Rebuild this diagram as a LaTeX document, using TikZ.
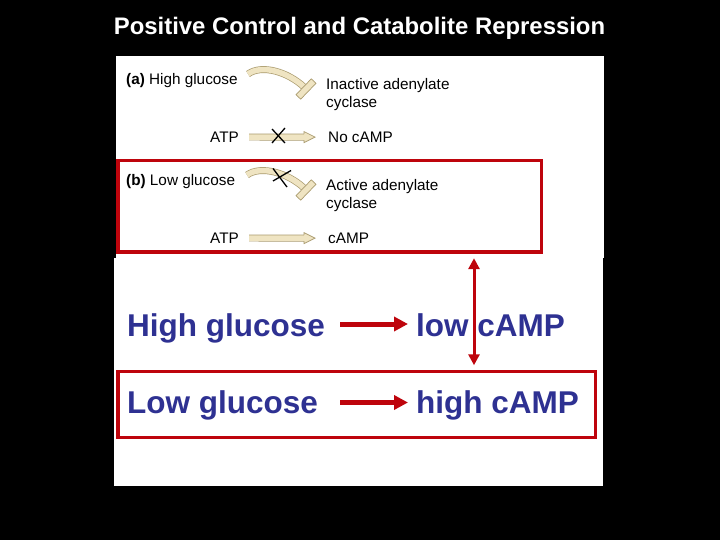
\documentclass[tikz,border=0pt]{standalone}
\usepackage{fontspec}
\setmainfont{Liberation Sans}
\usetikzlibrary{arrows.meta,calc}
\definecolor{boxred}{RGB}{190,4,12}
\definecolor{navy}{RGB}{46,49,146}
\definecolor{tanfill}{RGB}{239,228,194}
\definecolor{tanedge}{RGB}{170,155,110}

\newcommand{\tanarrow}[2]{%
  \draw[tanband] (#1) -- ($(#2)+(-11,0)$);
  \fill[tanfill] ($(#2)+(-11,-5)$) -- (#2) -- ($(#2)+(-11,5)$) -- cycle;
  \draw[tanedge, line width=0.7pt] ($(#2)+(-11,-3.1)$) -- ($(#2)+(-11,-5.5)$) -- (#2) -- ($(#2)+(-11,5.5)$) -- ($(#2)+(-11,3.1)$);
}

\begin{document}
\begin{tikzpicture}[x=1pt,y=-1pt,
  small/.style={font=\fontsize{15.3}{17.5}\selectfont, anchor=base west, inner sep=0pt, text=black},
  big/.style={font=\fontsize{31.5}{36}\selectfont\bfseries, anchor=base west, inner sep=0pt, text=navy},
  redbox/.style={draw=boxred, line width=3.5pt, inner sep=0pt},
  redarrow/.style={draw=boxred, line width=5pt, -{Triangle[length=14pt,width=14pt]}},
  dblarrow/.style={draw=boxred, line width=3pt, {Triangle[length=11pt,width=11pt]}-{Triangle[length=11pt,width=11pt]}},
  tanband/.style={draw=tanedge, line width=0.7pt, double=tanfill, double distance=5.5pt},
  inhibbar/.style={draw=tanedge, fill=tanfill, line width=0.7pt, minimum width=22pt, minimum height=6.5pt, inner sep=0pt},
  crossline/.style={draw=black, line width=1.3pt}
]
\fill[black] (0,0) rectangle (720,540);
\useasboundingbox (0,0) rectangle (720,540);
\fill[white] (116,56) rectangle (604,258);
\fill[white] (114,258) rectangle (603,486);

\node[font=\fontsize{23.9}{27}\selectfont\bfseries, text=white, anchor=base, inner sep=0pt] (title) at (359.5,35) {Positive Control and Catabolite Repression};

% (a) high glucose
\node[small] (hga) at (126,85) {\textbf{(a)} High glucose};
\node[small] (iac) at (326,90) {\begin{tabular}[t]{@{}l@{}}Inactive adenylate\\cyclase\end{tabular}};
\node[small] (atpa) at (210,142.3) {ATP};
\node[small] (nocamp) at (328,142.3) {No cAMP};

\coordinate (ia0) at (248,74);
\coordinate (ia1) at (304,87);
\draw[tanband] (ia0) .. controls (262,64) and (288,72) .. (ia1);
\node[inhibbar, rotate=46] (bara) at (306,89) {};

\coordinate (aa0) at ($(atpa.east)+(10,0)$);
\coordinate (aa1) at ($(nocamp.west)+(-13,0)$);
\tanarrow{aa0}{aa1}
\draw[crossline] (272,129) -- (285,143);
\draw[crossline] (272,143) -- (285,128);

% (b) low glucose
\node[small] (lgb) at (126,185.7) {\textbf{(b)} Low glucose};
\node[small] (aac) at (326,191) {\begin{tabular}[t]{@{}l@{}}Active adenylate\\cyclase\end{tabular}};
\node[small] (atpb) at (210,243.3) {ATP};
\node[small] (camp) at (328,243.3) {cAMP};

\coordinate (ib0) at (247,175);
\coordinate (ib1) at (304,188);
\draw[tanband] (ib0) .. controls (261,165) and (288,173) .. (ib1);
\node[inhibbar, rotate=46] (barb) at (306,190) {};
\draw[crossline] (273,168.5) -- (287,187);
\draw[crossline] (273,181) -- (291,170.5);

\coordinate (ba0) at ($(atpb.east)+(10,0)$);
\coordinate (ba1) at ($(camp.west)+(-13,0)$);
\tanarrow{ba0}{ba1}

\node[redbox, minimum width=423.5pt, minimum height=91.5pt] (boxb) at (329.5,206.2) {};

% bottom summary
\node[big] (hg) at (127,336) {High glucose};
\node[big] (lc) at (416,336) {low cAMP};
\node[big] (lg) at (127,413) {Low glucose};
\node[big] (hc) at (416,413) {high cAMP};

\draw[redarrow] ($(hg.base east)+(15,-12)$) -- ($(lc.base west)+(-8,-12)$);
\draw[redarrow] ($(lg.base east)+(22,-10.5)$) -- ($(hc.base west)+(-8,-10.5)$);

\node[redbox, minimum width=477.5pt, minimum height=66pt] (boxlow) at (356.8,404.5) {};

\coordinate (vx) at (474,0);
\draw[dblarrow] ($(vx |- boxb.south)+(0,4.5)$) -- ($(vx |- boxlow.north)+(0,-4.5)$);
\end{tikzpicture}
\end{document}
